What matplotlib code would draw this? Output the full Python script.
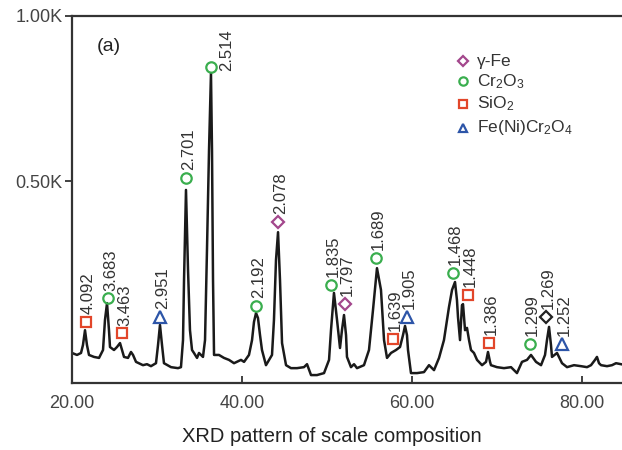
import matplotlib
matplotlib.use("Agg")
import matplotlib.pyplot as plt
from matplotlib.ticker import FuncFormatter

plt.rcParams['font.family'] = ['Liberation Sans', 'DejaVu Sans']
plt.rcParams['mathtext.fontset'] = 'custom'
plt.rcParams['mathtext.rm'] = 'Liberation Sans'
plt.rcParams['mathtext.it'] = 'Liberation Sans:italic'

# traced XRD pattern (2-theta, intensity in counts)
two_theta = [20.00, 20.59, 21.06, 21.29, 21.53, 21.76, 22.00, 22.59, 23.18, 23.65,
             23.88, 24.12, 24.35, 24.47, 24.94, 25.29, 25.65, 25.88, 26.12, 26.59,
             26.94, 27.18, 27.53, 28.35, 28.82, 29.29, 29.88, 30.12, 30.35, 30.59,
             30.82, 31.65, 32.47, 32.82, 33.06, 33.18, 33.41, 33.65, 33.88, 34.12,
             34.35, 34.71, 34.94, 35.18, 35.41, 35.65, 35.88, 36.12, 36.35, 36.47,
             36.59, 36.71, 37.29, 37.88, 38.47, 39.06, 39.88, 40.24, 40.82, 41.18,
             41.41, 41.65, 41.88, 42.12, 42.35, 42.82, 43.18, 43.53, 43.76, 44.00,
             44.24, 44.47, 44.71, 45.18, 45.76, 46.47, 47.29, 47.65, 48.12, 48.82,
             49.65, 50.24, 50.47, 50.82, 51.18, 51.53, 51.76, 52.00, 52.24, 52.35,
             52.82, 53.18, 53.53, 54.35, 54.94, 55.41, 55.88, 56.35, 56.71, 57.06,
             57.53, 58.12, 58.59, 58.94, 59.18, 59.41, 59.53, 59.88, 60.59, 61.41,
             62.00, 62.59, 63.18, 63.76, 64.35, 64.71, 65.06, 65.29, 65.41, 65.65,
             65.88, 66.00, 66.24, 66.47, 66.71, 66.94, 67.29, 67.65, 68.24, 68.71,
             68.94, 69.18, 69.29, 70.00, 70.82, 71.65, 72.35, 72.94, 73.53, 74.00,
             74.59, 75.18, 75.65, 75.88, 76.12, 76.35, 76.47, 77.06, 77.65, 78.24,
             79.06, 79.88, 80.59, 81.06, 81.53, 81.76, 82.00, 82.24, 82.94, 83.53,
             84.00, 84.59]
intensity = [-21, -27, -21, 3, 48, 3, -27, -33, -36, -12,
             79, 130, 48, -3, -12, -3, 9, -12, -33, -36,
             -18, -27, -48, -58, -55, -61, -52, 3, 64, 3,
             -52, -64, -67, -64, 18, 200, 473, 230, 48, -12,
             -21, -36, -21, -27, -33, 18, 291, 594, 827, 594,
             200, -27, -27, -36, -42, -52, -42, -48, -27, 18,
             73, 100, 85, 33, -12, -58, -42, -27, 79, 261,
             345, 200, 9, -58, -67, -67, -64, -55, -88, -88,
             -82, -42, 48, 161, 79, -6, 48, 94, 33, -33,
             -64, -55, -67, -58, -12, 109, 236, 170, 18, -36,
             -21, -12, -3, 33, 61, 33, -12, -82, -82, -79,
             -58, -73, -36, 18, 118, 170, 194, 139, 88, 18,
             124, 127, 48, 55, 18, -12, -21, -42, -58, -48,
             -18, -48, -58, -64, -67, -64, -82, -48, -42, -27,
             -48, -58, -27, 18, 58, 3, -33, -21, -52, -64,
             -58, -61, -64, -58, -42, -33, -52, -58, -61, -58,
             -52, -55]

# phase marks above peaks
peak_x = [21.65, 24.24, 25.88, 30.35, 33.41, 36.35, 41.65, 44.24, 50.47, 52.12,
          55.76, 57.76, 59.41, 64.82, 66.59, 69.06, 73.88, 75.76, 77.65]
peak_y = [73, 145, 39, 88, 509, 845, 121, 376, 185, 127,
          267, 21, 88, 221, 155, 9, 6, 88, 6]
d_labels = ['4.092', '3.683', '3.463', '2.951', '2.701', '2.514', '2.192', '2.078',
            '1.835', '1.797', '1.689', '1.639', '1.905', '1.468', '1.448', '1.386',
            '1.299', '1.269', '1.252']
phases = ['SiO2', 'Cr2O3', 'SiO2', 'FeNiCr2O4', 'Cr2O3', 'Cr2O3', 'Cr2O3', 'gFe',
          'Cr2O3', 'gFe', 'Cr2O3', 'SiO2', 'FeNiCr2O4', 'Cr2O3', 'SiO2', 'SiO2',
          'Cr2O3', 'unk', 'FeNiCr2O4']

legend_keys = ['gFe', 'Cr2O3', 'SiO2', 'FeNiCr2O4']
legend_names = ['γ-Fe', r'Cr$_2$O$_3$', r'SiO$_2$', r'Fe(Ni)Cr$_2$O$_4$']

styles = {
    'gFe': ('D', '#a3478c', 6),
    'Cr2O3': ('o', '#3aae4e', 7.5),
    'SiO2': ('s', '#e2462a', 7.5),
    'FeNiCr2O4': ('^', '#2d55a8', 8),
    'unk': ('D', '#222222', 6),
}

fig = plt.figure(figsize=(6.22, 4.5), dpi=100)
ax = fig.add_axes([72 / 622, 1 - 383 / 450, 550 / 622, 367 / 450])

ax.plot(two_theta, intensity, color='#1a1a1a', lw=1.8)

for x, y, lab, ph in zip(peak_x, peak_y, d_labels, phases):
    m, c, s = styles[ph]
    ax.plot(x, y, marker=m, ms=s, mfc='none', mec=c, mew=1.6, ls='none')
    if lab == '2.514':
        off = (11, -3)
    else:
        off = (1.8, 5.5)
    ax.annotate(lab, (x, y), xytext=off, textcoords='offset points',
                rotation=90, ha='center', va='bottom', fontsize=12, color='#333333')

# legend drawn by hand
rows_y = [0.877, 0.822, 0.760, 0.695]
for ky, name, ry in zip(legend_keys, legend_names, rows_y):
    m, c, s = styles[ky]
    ax.plot(0.711, ry, marker=m, ms=s * 0.8, mfc='none', mec=c, mew=1.6,
            transform=ax.transAxes, clip_on=False)
    ax.text(0.736, ry, name, transform=ax.transAxes, ha='left', va='center',
            fontsize=12.5, color='#333333')

ax.text(0.045, 0.916, '(a)', transform=ax.transAxes, ha='left', va='center',
        fontsize=14, color='#222222')

ax.set_xlim(20, 20 + 550 / 8.5)
ax.set_ylim(-112, 1000)
ax.set_xticks([20, 40, 60, 80])
ax.set_yticks([500, 1000])
ax.xaxis.set_major_formatter(FuncFormatter(lambda v, p: f'{v:.2f}'))
ax.yaxis.set_major_formatter(FuncFormatter(lambda v, p: f'{v / 1000:.2f}K'))
ax.tick_params(axis='x', direction='in', length=5, width=1.3, pad=9,
               labelsize=13, labelcolor='#444444', color='#333333')
ax.tick_params(axis='y', direction='out', length=5, width=1.3, pad=2,
               labelsize=13, labelcolor='#444444', color='#333333')
ax.spines['right'].set_visible(False)
for sp in ['left', 'top', 'bottom']:
    ax.spines[sp].set_linewidth(1.6)
    ax.spines[sp].set_color('#333333')

fig.text(332 / 622, 1 - 437 / 450, 'XRD pattern of scale composition',
         ha='center', va='center', fontsize=14.5, color='#222222')

fig.savefig('out.png', dpi=100)
